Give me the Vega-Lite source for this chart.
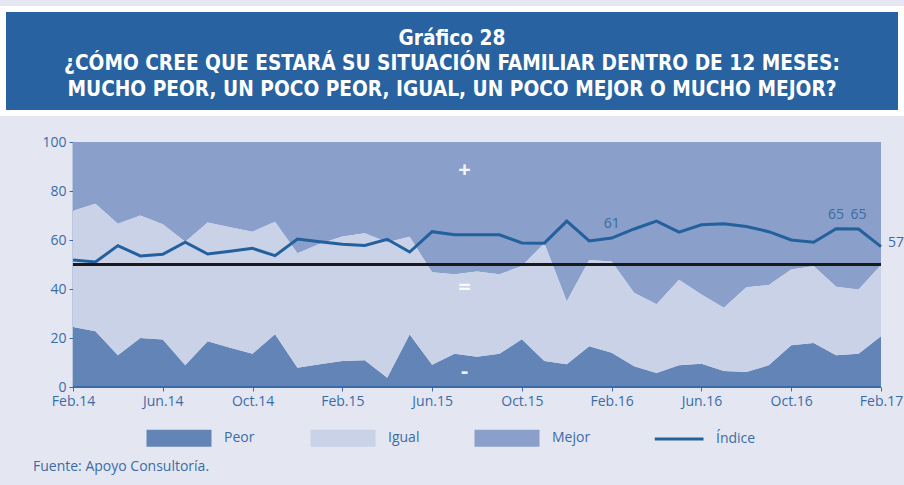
{
  "$schema": "https://vega.github.io/schema/vega-lite/v6.json",
  "background": "#e4e7f2",
  "padding": {"top": 6, "left": 0, "right": 0, "bottom": 12},
  "spacing": 19,
  "columns": 1,
  "align": "none",
  "bounds": "full",
  "title": {
    "text": "Fuente: Apoyo Consultoría.",
    "orient": "bottom",
    "anchor": "start",
    "frame": "bounds",
    "font": "Open Sans",
    "fontSize": 14,
    "fontWeight": "normal",
    "color": "#3b6ba6",
    "offset": 13,
    "dx": 33
  },
  "config": {
    "font": "Open Sans",
    "view": {"stroke": null},
    "legend": {"layout": {"bottom": {"anchor": "middle"}}},
    "axisY": {"labelOverlap": false, "tickCount": 10, "labelFlush": false},
    "axisQuantitative": {"labelOverlap": false, "tickCount": 10}
  },
  "concat": [
    {
      "width": 898,
      "height": 104,
      "view": {"fill": "#2862a0", "stroke": "#ffffff", "strokeWidth": 6},
      "data": {"values": [{}]},
      "mark": {
        "type": "text",
        "text": ["Gráfico 28", "¿CÓMO CREE QUE ESTARÁ SU SITUACIÓN FAMILIAR DENTRO DE 12 MESES:", "MUCHO PEOR, UN POCO PEOR, IGUAL, UN POCO MEJOR O MUCHO MEJOR?"],
        "align": "center",
        "baseline": "middle",
        "font": "DejaVu Sans Condensed, sans-serif",
        "fontWeight": "bold",
        "fontSize": 20.7,
        "lineHeight": 25.5,
        "color": "#ffffff"
      },
      "encoding": {
        "x": {"datum": 0.5, "type": "quantitative", "scale": {"domain": [0, 1]}, "axis": null},
        "y": {"datum": 0.712, "type": "quantitative", "scale": {"domain": [0, 1]}, "axis": null}
      }
    },
    {
      "width": 901,
      "height": 245,
      "data": {
        "values": [
          {"mes": "Feb.14", "Peor": 24.5, "Igual": 47.4, "Mejor": 28.1, "Indice": 51.8},
          {"mes": "Mar.14", "Peor": 22.8, "Igual": 52.0, "Mejor": 25.2, "Indice": 51.0},
          {"mes": "Abr.14", "Peor": 13.0, "Igual": 53.6, "Mejor": 33.4, "Indice": 57.7},
          {"mes": "May.14", "Peor": 20.0, "Igual": 50.0, "Mejor": 30.0, "Indice": 53.5},
          {"mes": "Jun.14", "Peor": 19.4, "Igual": 47.0, "Mejor": 33.6, "Indice": 54.2},
          {"mes": "Jul.14", "Peor": 8.9, "Igual": 50.4, "Mejor": 40.7, "Indice": 59.1},
          {"mes": "Ago.14", "Peor": 18.7, "Igual": 48.4, "Mejor": 32.9, "Indice": 54.3},
          {"mes": "Set.14", "Peor": 16.0, "Igual": 49.2, "Mejor": 34.8, "Indice": 55.4},
          {"mes": "Oct.14", "Peor": 13.6, "Igual": 49.8, "Mejor": 36.6, "Indice": 56.6},
          {"mes": "Nov.14", "Peor": 21.5, "Igual": 46.0, "Mejor": 32.5, "Indice": 53.6},
          {"mes": "Dic.14", "Peor": 7.9, "Igual": 46.7, "Mejor": 45.4, "Indice": 60.4},
          {"mes": "Ene.15", "Peor": 9.3, "Igual": 49.2, "Mejor": 41.5, "Indice": 59.3},
          {"mes": "Feb.15", "Peor": 10.6, "Igual": 50.8, "Mejor": 38.6, "Indice": 58.3},
          {"mes": "Mar.15", "Peor": 10.9, "Igual": 51.9, "Mejor": 37.2, "Indice": 57.8},
          {"mes": "Abr.15", "Peor": 3.8, "Igual": 55.3, "Mejor": 40.9, "Indice": 60.3},
          {"mes": "May.15", "Peor": 21.4, "Igual": 39.9, "Mejor": 38.7, "Indice": 55.1},
          {"mes": "Jun.15", "Peor": 9.1, "Igual": 37.7, "Mejor": 53.2, "Indice": 63.4},
          {"mes": "Jul.15", "Peor": 13.6, "Igual": 32.4, "Mejor": 54.0, "Indice": 62.1},
          {"mes": "Ago.15", "Peor": 12.3, "Igual": 34.8, "Mejor": 52.9, "Indice": 62.1},
          {"mes": "Set.15", "Peor": 13.6, "Igual": 32.4, "Mejor": 54.0, "Indice": 62.1},
          {"mes": "Oct.15", "Peor": 19.5, "Igual": 29.9, "Mejor": 50.6, "Indice": 58.8},
          {"mes": "Nov.15", "Peor": 10.6, "Igual": 48.1, "Mejor": 41.3, "Indice": 58.7},
          {"mes": "Dic.15", "Peor": 9.3, "Igual": 25.7, "Mejor": 65.0, "Indice": 67.7},
          {"mes": "Ene.16", "Peor": 16.6, "Igual": 35.2, "Mejor": 48.2, "Indice": 59.6},
          {"mes": "Feb.16", "Peor": 14.0, "Igual": 37.2, "Mejor": 48.8, "Indice": 60.8},
          {"mes": "Mar.16", "Peor": 8.5, "Igual": 30.0, "Mejor": 61.5, "Indice": 64.5},
          {"mes": "Abr.16", "Peor": 5.7, "Igual": 28.1, "Mejor": 66.2, "Indice": 67.7},
          {"mes": "May.16", "Peor": 8.9, "Igual": 34.9, "Mejor": 56.2, "Indice": 63.2},
          {"mes": "Jun.16", "Peor": 9.5, "Igual": 28.3, "Mejor": 62.2, "Indice": 66.2},
          {"mes": "Jul.16", "Peor": 6.5, "Igual": 25.8, "Mejor": 67.7, "Indice": 66.6},
          {"mes": "Ago.16", "Peor": 6.1, "Igual": 34.6, "Mejor": 59.3, "Indice": 65.5},
          {"mes": "Set.16", "Peor": 8.9, "Igual": 32.7, "Mejor": 58.4, "Indice": 63.4},
          {"mes": "Oct.16", "Peor": 17.0, "Igual": 31.0, "Mejor": 52.0, "Indice": 60.0},
          {"mes": "Nov.16", "Peor": 18.0, "Igual": 31.4, "Mejor": 50.6, "Indice": 59.1},
          {"mes": "Dic.16", "Peor": 13.0, "Igual": 27.9, "Mejor": 59.1, "Indice": 64.6},
          {"mes": "Ene.17", "Peor": 13.6, "Igual": 26.2, "Mejor": 60.2, "Indice": 64.5},
          {"mes": "Feb.17", "Peor": 20.7, "Igual": 29.1, "Mejor": 50.2, "Indice": 57.3}
        ]
      },
      "encoding": {
        "x": {
          "field": "mes",
          "type": "ordinal",
          "sort": null,
          "scale": {"type": "point", "padding": 0, "range": [70, 878]},
          "axis": {
            "title": null,
            "values": ["Feb.14", "Jun.14", "Oct.14", "Feb.15", "Jun.15", "Oct.15", "Feb.16", "Jun.16", "Oct.16", "Feb.17"],
            "labelAngle": 0,
            "labelFont": "Open Sans",
            "labelFontSize": 14,
            "labelColor": "#3b6ba6",
            "labelPadding": 3,
            "domain": false,
            "tickColor": "#3b6ba6",
            "tickSize": 4,
            "grid": false
          }
        }
      },
      "resolve": {"scale": {"y": "independent"}},
      "layer": [
        {
          "mark": {"type": "area"},
          "encoding": {
            "y": {
              "field": "Mejor",
              "type": "quantitative",
              "scale": {"domain": [0, 100], "reverse": true},
              "axis": null
            },
            "color": {"datum": "Mejor"}
          }
        },
        {
          "layer": [
            {
              "transform": [{"fold": ["Peor", "Igual"], "as": ["serie", "valor"]}],
              "mark": {"type": "area"},
              "encoding": {
                "y": {
                  "field": "valor",
                  "type": "quantitative",
                  "stack": "zero",
                  "scale": {"domain": [0, 100]},
                  "axis": {
                    "title": null,
                    "values": [0, 10, 20, 30, 40, 50, 60, 70, 80, 90, 100],
                    "tickCount": 10,
                    "labelOverlap": false,
                    "offset": -70,
                    "labelFont": "Open Sans",
                    "labelFontSize": 14,
                    "labelColor": "#3b6ba6",
                    "labelPadding": 3,
                    "domainColor": "#3b6ba6",
                    "domainWidth": 1.5,
                    "tickColor": "#3b6ba6",
                    "tickSize": 4,
                    "grid": false
                  }
                },
                "color": {
                  "field": "serie",
                  "type": "nominal",
                  "scale": {
                    "domain": ["Peor", "Igual", "Mejor", "Índice"],
                    "range": ["#6384b6", "#c9d2e7", "#8a9fc9", "#23609e"]
                  },
                  "legend": {
                    "title": null,
                    "orient": "bottom",
                    "direction": "horizontal",
                    "columns": 4,
                    "gridAlign": "all",
                    "columnPadding": 46,
                    "symbolType": "M-1,-0.26H1V0.26H-1Z",
                    "symbolSize": 4225,
                    "symbolOffset": 24,
                    "labelOffset": 38,
                    "labelFont": "Open Sans",
                    "labelFontSize": 14,
                    "labelColor": "#3b6ba6",
                    "offset": 23,
                    "encode": {
                      "symbols": {
                        "update": {
                          "shape": {"signal": "datum.value === 'Índice' ? 'M-0.5,0H1' : 'M-1,-0.26H1V0.26H-1Z'"},
                          "fill": {"signal": "datum.value === 'Índice' ? 'transparent' : datum.value === 'Peor' ? '#6384b6' : datum.value === 'Igual' ? '#c9d2e7' : '#8a9fc9'"},
                          "stroke": {"signal": "datum.value === 'Índice' ? '#23609e' : 'transparent'"},
                          "strokeWidth": {"signal": "datum.value === 'Índice' ? 3 : 0"},
                          "opacity": {"value": 1}
                        }
                      }
                    }
                  }
                }
              }
            },
            {
              "mark": {"type": "line", "strokeWidth": 3},
              "encoding": {
                "y": {"field": "Indice", "type": "quantitative"},
                "color": {"datum": "Índice"}
              }
            },
            {
              "mark": {"type": "rule", "color": "#1a1a1a", "strokeWidth": 2},
              "encoding": {"y": {"datum": 50}, "x": {"datum": "Feb.14"}, "x2": {"datum": "Feb.17"}}
            },
            {
              "mark": {"type": "rule", "color": "#3b6ba6", "strokeWidth": 1.5},
              "encoding": {"y": {"datum": 0}, "x": {"datum": "Feb.14"}, "x2": {"datum": "Feb.17"}}
            },
            {
              "transform": [{"filter": {"field": "mes", "oneOf": ["Feb.16", "Dic.16", "Ene.17"]}}],
              "mark": {"type": "text", "baseline": "bottom", "dy": -7, "font": "Open Sans", "fontSize": 14, "color": "#3b6ba6"},
              "encoding": {
                "y": {"field": "Indice", "type": "quantitative"},
                "text": {"field": "Indice", "type": "quantitative", "format": ".0f"}
              }
            },
            {
              "transform": [{"filter": {"field": "mes", "equal": "Feb.17"}}],
              "mark": {"type": "text", "align": "left", "baseline": "middle", "dx": 7, "dy": -4, "font": "Open Sans", "fontSize": 14, "color": "#3b6ba6"},
              "encoding": {
                "y": {"field": "Indice", "type": "quantitative"},
                "text": {"field": "Indice", "type": "quantitative", "format": ".0f"}
              }
            },
            {
              "data": {
                "values": [
                  {"mes": "Jul.15", "valor": 88.7, "simbolo": "+"},
                  {"mes": "Jul.15", "valor": 40.8, "simbolo": "="},
                  {"mes": "Jul.15", "valor": 6.4, "simbolo": "-"}
                ]
              },
              "mark": {"type": "text", "dx": 10, "baseline": "middle", "fontSize": 22, "fontWeight": "bold", "color": "#ffffff", "opacity": 0.9},
              "encoding": {
                "y": {"field": "valor", "type": "quantitative"},
                "text": {"field": "simbolo", "type": "nominal"}
              }
            }
          ]
        }
      ]
    }
  ]
}
